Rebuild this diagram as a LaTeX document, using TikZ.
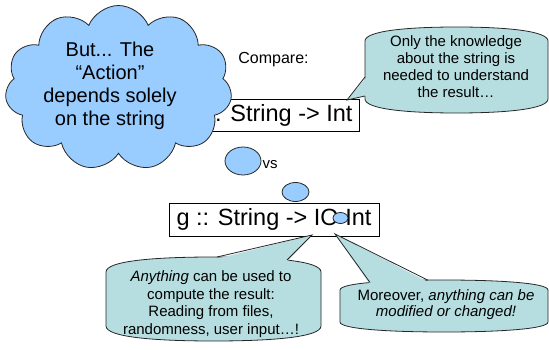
\documentclass[tikz,border=0pt]{standalone}
\usepackage{fontspec}
\setmainfont{Liberation Sans}
\usetikzlibrary{shapes.symbols,shapes.geometric}
\definecolor{cloudblue}{RGB}{153,204,255}
\definecolor{calloutfill}{RGB}{182,222,224}
% rounded callout body: L T R B h k1 k2
\newcommand\calloutbody[7]{%
 (#1,{(#2+#4)/2}) -- (#1,{#2+#5})
 .. controls (#1,{#2+#5-#6}) and ({(#1+#3)/2-#7},#2) .. ({(#1+#3)/2},#2)
 .. controls ({(#1+#3)/2+#7},#2) and (#3,{#2+#5-#6}) .. (#3,{#2+#5})
 -- (#3,{#4-#5})
 .. controls (#3,{#4-#5+#6}) and ({(#1+#3)/2+#7},#4) .. ({(#1+#3)/2},#4)
 .. controls ({(#1+#3)/2-#7},#4) and (#1,{#4-#5+#6}) .. (#1,{#4-#5}) -- cycle}
\tikzset{
  typebox/.style={draw=black, line width=0.9pt, fill=white, inner sep=0pt,
    font=\fontsize{23.5}{28}\selectfont},
  calloutstyle/.style={draw=black!85, line width=0.8pt, fill=calloutfill},
  pointerfill/.style={fill=calloutfill},
  pointerline/.style={draw=black!85, line width=0.8pt},
  callouttext/.style={align=center, inner sep=0pt,
    font=\fontsize{15}{17.3}\selectfont},
  thought/.style={ellipse, draw=black!85, line width=0.8pt, fill=cloudblue, inner sep=0pt},
}
\begin{document}
\begin{tikzpicture}[x=1pt,y=-1pt]
\useasboundingbox (0,0) rectangle (549,350);

% first type box (partly hidden by the cloud)
\node[typebox, minimum width=170pt, minimum height=32pt] (f) at (274,115) {f :: String -> Int};

% cloud
\node[cloud, draw=black!85, line width=0.8pt, fill=cloudblue, cloud puffs=11,
      cloud puff arc=135, aspect=1.376, minimum width=227pt, minimum height=165pt,
      inner sep=0pt] (cloud) at (118.5,88) {};
\node[align=center, inner sep=0pt, font=\fontsize{20}{22.8}\selectfont] (cloudtext) at (110,86)
  {But... The\\“Action”\\depends solely\\on the string};

\node[inner sep=0pt, font=\fontsize{16}{19}\selectfont] (compare) at (273.5,60) {Compare:};

% callout 1
\coordinate (t1) at (347,100);
\coordinate (b1a) at (365,77);
\coordinate (b1b) at (365,96);
\path[calloutstyle] \calloutbody{365}{27}{548}{113}{14}{10}{50};
\fill[pointerfill] ([xshift=1.6pt]b1a) -- (t1) -- ([xshift=1.6pt]b1b) -- cycle;
\draw[pointerline] (b1a) -- (t1) -- (b1b);
\node[callouttext] (c1text) at (456,66.6)
  {Only the knowledge\\about the string is\\needed to understand\\the result…};

% vs and thought bubbles
\node[inner sep=0pt, font=\fontsize{15}{18}\selectfont] (vs) at (270,165) {vs};
\node[thought, minimum width=36pt, minimum height=28pt] (e1) at (243,161) {};
\node[thought, minimum width=27pt, minimum height=19pt] (e2) at (295.5,192) {};

% second type box
\node[typebox, minimum width=210pt, minimum height=33pt] (g) at (274,219.5) {g :: String -> IO Int};
\node[thought, minimum width=15pt, minimum height=11pt] (e3) at (340.5,218) {};

% callout 2
\coordinate (t2) at (312,235);
\coordinate (b2a) at (217,257);
\coordinate (b2b) at (287,260);
\path[calloutstyle] \calloutbody{106}{257}{321}{341}{15}{11}{60};
\fill[pointerfill] ([yshift=-1.8pt]b2a) -- (t2) -- ([yshift=-1.8pt]b2b) -- cycle;
\draw[pointerline] (b2a) -- (t2) -- (b2b);
\node[callouttext, font=\fontsize{15}{17.7}\selectfont] (c2text) at (211,304)
  {\textit{Anything} can be used to\\compute the result:\\Reading from files,\\randomness, user input…!};

% callout 3
\coordinate (t3) at (335,234);
\coordinate (b3a) at (370,282.5);
\coordinate (b3b) at (428,280.2);
\path[calloutstyle] \calloutbody{340}{280}{548}{332}{10}{7}{55};
\fill[pointerfill] ([yshift=-1.8pt]b3a) -- (t3) -- ([yshift=-1.8pt]b3b) -- cycle;
\draw[pointerline] (b3a) -- (t3) -- (b3b);
\node[callouttext, font=\fontsize{15}{16.5}\selectfont] (c3text) at (446,304.5)
  {Moreover, \textit{anything can be}\\\textit{modified or changed!}};
\end{tikzpicture}
\end{document}
